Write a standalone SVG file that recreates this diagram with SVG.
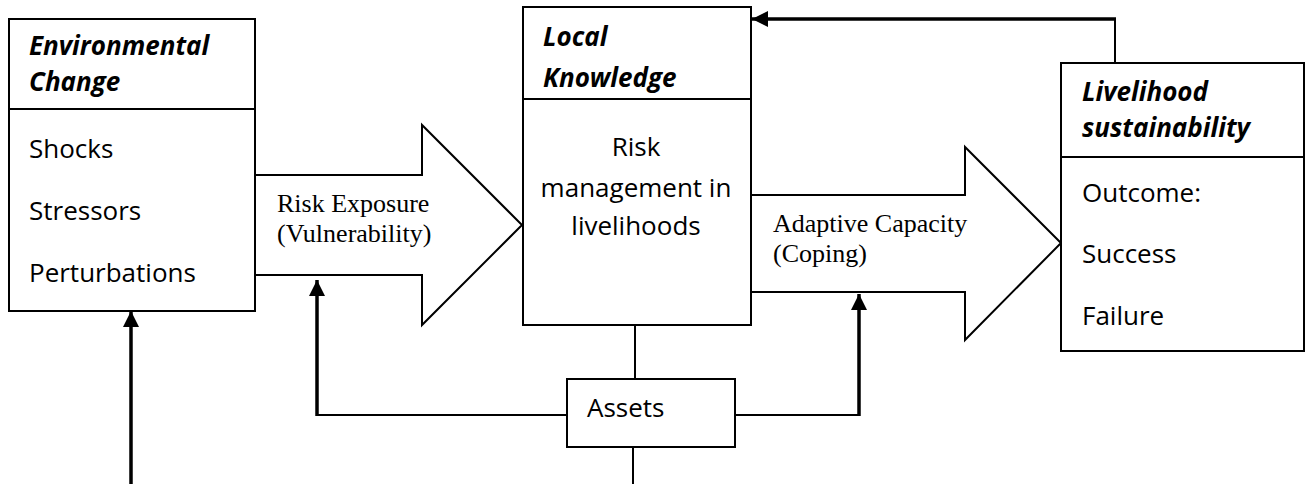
<svg xmlns="http://www.w3.org/2000/svg" width="1310" height="484" viewBox="0 0 1310 484">
  <style>
    .box { fill: #ffffff; stroke: #000000; stroke-width: 2; }
    .div { stroke: #000000; stroke-width: 2; }
    .flow { fill: #ffffff; stroke: #000000; stroke-width: 2; stroke-linejoin: miter; }
    .thin { fill: none; stroke: #000000; stroke-width: 2; }
    .thick { fill: none; stroke: #000000; stroke-width: 3.5; }
    .title { font-family: "Open Sans", "Noto Sans", sans-serif; font-size: 26px; font-weight: bold; font-style: italic; fill: #000000; }
    .body { font-family: "Open Sans", "Noto Sans", sans-serif; font-size: 26px; fill: #000000; }
    .serif { font-family: "Liberation Serif", "Times New Roman", serif; font-size: 26px; fill: #000000; }
  </style>
  <defs>
    <marker id="ah" markerUnits="userSpaceOnUse" markerWidth="16" markerHeight="16" viewBox="0 0 16 16" refX="16" refY="8" orient="auto">
      <path d="M0,0 L16,8 L0,16 Z" fill="#000000"/>
    </marker>
  </defs>

  <g id="connectors">
    <!-- Risk exposure block arrow -->
    <path id="arrow-risk-exposure" class="flow" d="M255,175 H422 V125 L522,225 L422,325 V275 H255"/>
    <!-- Adaptive capacity block arrow -->
    <path id="arrow-adaptive" class="flow" d="M751,195 H965 V147 L1061,243 L965,340 V292 H751"/>
    <!-- feedback from livelihood to local knowledge -->
    <line class="thin" x1="1115" y1="63" x2="1115" y2="19"/>
    <line class="thick" x1="1116" y1="19" x2="752" y2="19" marker-end="url(#ah)"/>
    <!-- up arrow to environmental change -->
    <line class="thick" x1="131" y1="484" x2="131" y2="311" marker-end="url(#ah)"/>
    <!-- local knowledge to assets -->
    <line class="thin" x1="635" y1="325" x2="635" y2="379"/>
    <!-- assets down -->
    <line class="thin" x1="633" y1="447" x2="633" y2="484"/>
    <!-- assets to risk exposure -->
    <line class="thin" x1="567" y1="415" x2="316" y2="415"/>
    <line class="thick" x1="317" y1="416" x2="317" y2="280" marker-end="url(#ah)"/>
    <!-- assets to adaptive capacity -->
    <line class="thin" x1="735" y1="415" x2="860" y2="415"/>
    <line class="thick" x1="859" y1="416" x2="859" y2="294" marker-end="url(#ah)"/>
  </g>

  <text class="serif" x="277" y="212">Risk Exposure</text>
  <text class="serif" x="277" y="242">(Vulnerability)</text>
  <text class="serif" x="773" y="232">Adaptive Capacity</text>
  <text class="serif" x="773" y="262">(Coping)</text>

  <g id="environmental-change">
    <rect class="box" x="9" y="19" width="246" height="292"/>
    <line class="div" x1="9" y1="109" x2="255" y2="109"/>
    <text class="title" x="29" y="55">Environmental</text>
    <text class="title" x="29" y="91">Change</text>
    <text class="body" x="29" y="158">Shocks</text>
    <text class="body" x="29" y="220">Stressors</text>
    <text class="body" x="29" y="282">Perturbations</text>
  </g>

  <g id="local-knowledge">
    <rect class="box" x="523" y="7" width="228" height="318"/>
    <line class="div" x1="523" y1="99" x2="751" y2="99"/>
    <text class="title" x="543" y="46">Local</text>
    <text class="title" x="543" y="87">Knowledge</text>
    <text class="body" x="636" y="156" text-anchor="middle">Risk</text>
    <text class="body" x="636" y="197" text-anchor="middle">management in</text>
    <text class="body" x="636" y="235" text-anchor="middle">livelihoods</text>
  </g>

  <g id="livelihood-sustainability">
    <rect class="box" x="1061" y="63" width="243" height="288"/>
    <line class="div" x1="1061" y1="157" x2="1304" y2="157"/>
    <text class="title" x="1082" y="101">Livelihood</text>
    <text class="title" x="1082" y="137">sustainability</text>
    <text class="body" x="1082" y="202">Outcome:</text>
    <text class="body" x="1082" y="263">Success</text>
    <text class="body" x="1082" y="325">Failure</text>
  </g>

  <g id="assets">
    <rect class="box" x="567" y="379" width="168" height="68"/>
    <text class="body" x="587" y="417">Assets</text>
  </g>
</svg>
